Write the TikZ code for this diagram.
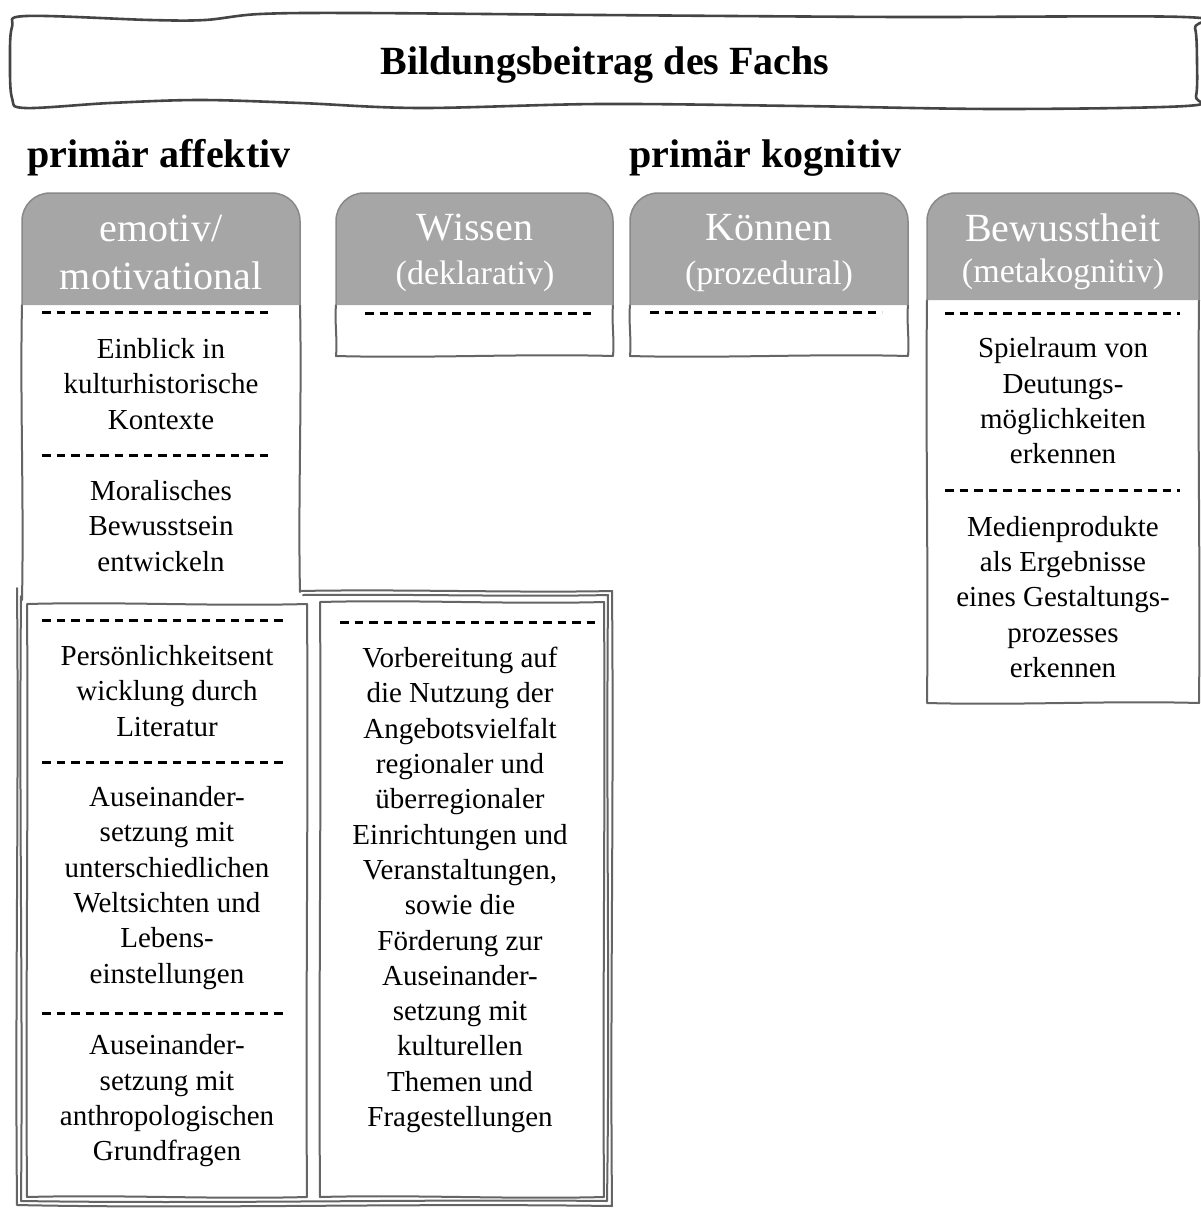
\documentclass[tikz,border=0pt]{standalone}
\usepackage{fontspec}
\setmainfont{Liberation Serif}
\definecolor{hdfill}{HTML}{A6A6A6}
\definecolor{hdline}{HTML}{888888}
\definecolor{skgray}{HTML}{656565}
\definecolor{ttlgray}{HTML}{454545}
\tikzset{
  skline/.style={draw=skgray, line width=2pt, line join=round, line cap=round},
  ttlline/.style={draw=ttlgray, line width=2.6pt, line join=round},
  hdbox/.style={fill=hdfill, draw=hdline, line width=1.5pt, rounded corners=28pt},
  dsh/.style={draw=black, line width=3pt, dash pattern=on 8.5pt off 6pt},
  hdtxt/.style={text=white, inner sep=0pt, font=\fontsize{40}{48}\selectfont},
  hdsub/.style={text=white, inner sep=0pt, font=\fontsize{34}{40}\selectfont},
  bodytxt/.style={text=black, align=center, inner sep=0pt, font=\fontsize{29}{35.3}\selectfont},
  cattxt/.style={anchor=west, inner sep=0pt, font=\bfseries\fontsize{40}{48}\selectfont},
}
% wobbly closed rectangle: x1 y1 x2 y2
\newcommand{\skrect}[5][]{%
  \draw[skline,#1] (#2,#3)
    .. controls ({#2+(#4-#2)/3},{#3-2.5}) and ({#2+2*(#4-#2)/3},{#3+2.5}) .. (#4,#3)
    .. controls ({#4+1.5},{#3+(#5-#3)/3}) and ({#4-1.5},{#3+2*(#5-#3)/3}) .. (#4,#5)
    .. controls ({#4-(#4-#2)/3},{#5+2.5}) and ({#4-2*(#4-#2)/3},{#5-2.5}) .. (#2,#5)
    .. controls ({#2-1.5},{#5-(#5-#3)/3}) and ({#2+1.5},{#5-2*(#5-#3)/3}) .. (#2,#3) -- cycle;}
% wobbly three-sided body under a header: x1 ytop x2 ybot
\newcommand{\skopen}[5][]{%
  \fill[white] (#2,#3) rectangle (#4,#5);
  \draw[skline,#1] (#2,#3)
    .. controls ({#2-1.5},{#3+(#5-#3)/3}) and ({#2+1.5},{#3+2*(#5-#3)/3}) .. (#2,#5)
    .. controls ({#2+(#4-#2)/3},{#5+2.5}) and ({#2+2*(#4-#2)/3},{#5-2.5}) .. (#4,#5)
    .. controls ({#4+1.5},{#5-(#5-#3)/3}) and ({#4-1.5},{#5-2*(#5-#3)/3}) .. (#4,#3);}
% header with rounded top corners: x1 ytop x2 ybot
\newcommand{\skhead}[4]{%
  \filldraw[hdbox] (#1,#4) -- (#1,#2) -- (#3,#2) -- (#3,#4);}
\begin{document}
\begin{tikzpicture}[x=1pt,y=-1pt]
\useasboundingbox (0,0) rectangle (1200,1208);
\fill[white] (0,0) rectangle (1200,1208);

% ---------- title box ----------
\draw[ttlline] plot[smooth cycle, tension=0.55] coordinates {
  (26,16) (150,20) (205,20) (260,14) (360,13) (600,15) (900,17) (1184,17)
  (1195,28) (1197,62) (1196,96) (1186,106) (1000,109) (800,106) (600,104)
  (420,108) (300,103) (200,100) (110,103) (25,108) (12,98) (10,62) (12,27)};
\node[font=\bfseries\fontsize{40}{48}\selectfont, inner sep=0pt] (title) at (605,65) {Bildungsbeitrag des Fachs};

% ---------- category labels ----------
\node[cattxt] (affektiv) at (27,158) {primär affektiv};
\node[cattxt] (kognitiv) at (629,158) {primär kognitiv};

% ---------- lower frame (outer, double stroke) ----------
\fill[white] (17,592) rectangle (612,1206);
\draw[skline] (300,591) .. controls (400,589) and (520,593) .. (612,591)
  .. controls (614,800) and (610,1000) .. (612,1206)
  .. controls (400,1203) and (200,1209) .. (17,1205)
  .. controls (15,1000) and (19,800) .. (17,588);
\draw[skline] (303,595) .. controls (420,594) and (520,597) .. (608,595)
  .. controls (606,820) and (610,1000) .. (607,1201)
  .. controls (420,1199) and (220,1204) .. (21,1201)
  .. controls (23,1000) and (19,820) .. (21,596);

% ---------- column 1: emotiv / motivational ----------
\fill[white] (22,305) rectangle (300,592);
\draw[skline] (22,305) .. controls (20,400) and (24,500) .. (22,600);
\draw[skline] (300,305) .. controls (302,400) and (298,500) .. (300,592);
\skhead{22}{193}{300}{305}
\node[hdtxt] (h1a) at (161,228) {emotiv/};
\node[hdtxt] (h1b) at (161,276) {motivational};
\draw[dsh] (42,312) -- (272,312);
\node[bodytxt] (e1) at (161,384) {Einblick in\\kulturhistorische\\Kontexte};
\draw[dsh] (42,455) -- (272,455);
\node[bodytxt] (e2) at (161,526) {Moralisches\\Bewusstsein\\entwickeln};

% ---------- inner boxes of the lower frame ----------
\skrect[fill=white]{27}{604}{307}{1197}
\skrect[fill=white]{320}{602}{604}{1197}
\draw[dsh] (42,620) -- (285,620);
\node[bodytxt] (p1) at (167,691) {Persönlichkeitsent\\wicklung durch\\Literatur};
\draw[dsh] (42,762) -- (285,762);
\node[bodytxt] (p2) at (167,888) {Auseinander-\\setzung mit\\unterschiedlichen\\Weltsichten und\\Lebens-\\einstellungen};
\draw[dsh] (42,1013) -- (285,1013);
\node[bodytxt] (p3) at (167,1101) {Auseinander-\\setzung mit\\anthropologischen\\Grundfragen};
\draw[dsh] (340,622) -- (600,622);
\node[bodytxt] (v1) at (460,890) {Vorbereitung auf\\die Nutzung der\\Angebotsvielfalt\\regionaler und\\überregionaler\\Einrichtungen und\\Veranstaltungen,\\sowie die\\Förderung zur\\Auseinander-\\setzung mit\\kulturellen\\Themen und\\Fragestellungen};

% ---------- column 2: Wissen ----------
\skopen{336}{305}{613}{356}
\skhead{336}{193}{613}{305}
\node[hdtxt] (h2a) at (475,228) {Wissen};
\node[hdsub] (h2b) at (475,276) {(deklarativ)};
\draw[dsh] (365,313) -- (596,313);

% ---------- column 3: Können ----------
\skopen{630}{305}{908}{356}
\skhead{630}{193}{908}{305}
\node[hdtxt] (h3a) at (769,228) {Können};
\node[hdsub] (h3b) at (769,276) {(prozedural)};
\draw[dsh] (650,312) -- (882,312);

% ---------- column 4: Bewusstheit ----------
\skopen{927}{300}{1199}{703}
\skhead{927}{193}{1199}{300}
\node[hdtxt] (h4a) at (1063,228) {Bewusstheit};
\node[hdsub] (h4b) at (1063,274) {(metakognitiv)};
\draw[dsh] (945,313) -- (1180,313);
\node[bodytxt] (b1) at (1063,401) {Spielraum von\\Deutungs-\\möglichkeiten\\erkennen};
\draw[dsh] (945,490) -- (1180,490);
\node[bodytxt] (b2) at (1063,597) {Medienprodukte\\als Ergebnisse\\eines Gestaltungs-\\prozesses\\erkennen};
\end{tikzpicture}
\end{document}
